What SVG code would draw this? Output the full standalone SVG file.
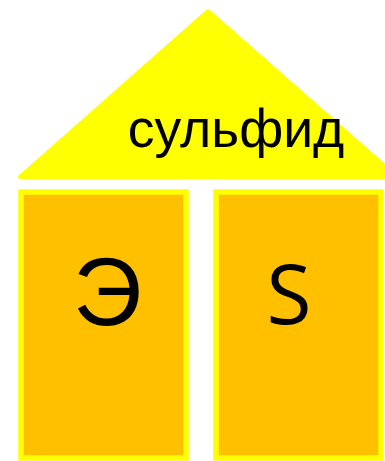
<svg xmlns="http://www.w3.org/2000/svg" width="385" height="461" viewBox="0 0 385 461">
<style>
.roof{fill:#FFFF00;stroke:#FFFF00;stroke-width:4;stroke-linejoin:round}
.box{fill:#FFC000;stroke:#FFFF00;stroke-width:5.5}
.t{font-family:"Liberation Sans",Arial,sans-serif;fill:#000}
</style>
<rect width="385" height="461" fill="#FFFFFF"/>
<g id="roof">
<polygon class="roof" points="208,11 20,177 397,177"/>
<text class="t" x="236" y="147" font-size="53.5" text-anchor="middle">сульфид</text>
</g>
<g id="left">
<rect class="box" x="21" y="192" width="165" height="266"/>
<text class="t" x="107.5" y="325" font-size="96" text-anchor="middle">Э</text>
</g>
<g id="right">
<rect class="box" x="216" y="192" width="165" height="266"/>
<text x="289" y="324" font-size="82" text-anchor="middle" font-family="'Open Sans','Noto Sans',sans-serif" fill="#000">S</text>
</g>
<g id="connectors"/>
</svg>
